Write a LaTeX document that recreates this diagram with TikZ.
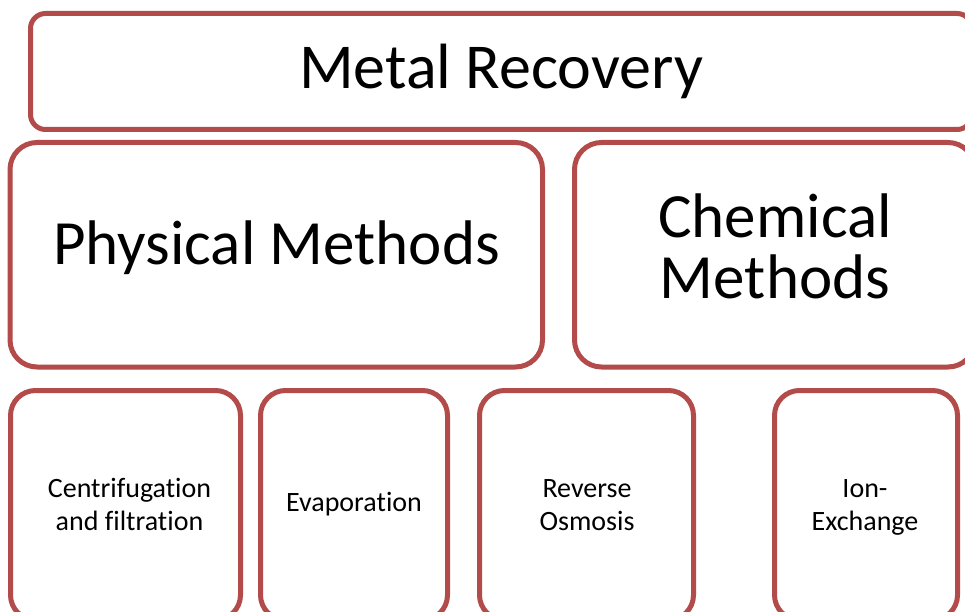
\documentclass[tikz,border=0pt]{standalone}
\usepackage{fontspec}
\setmainfont{Carlito}[Ligatures={NoCommon}]
\definecolor{boxred}{RGB}{178,75,73}
\begin{document}
\begin{tikzpicture}[x=1pt,y=-1pt,
  box/.style={draw=boxred,line width=5pt,rectangle,inner sep=0pt,outer sep=0pt,fill=white},
  bigtxt/.style={font=\fontsize{63}{61}\selectfont,align=center,inner sep=0pt,anchor=base},
  smalltxt/.style={font=\fontsize{28}{33}\selectfont,align=center,inner sep=0pt,anchor=base}]
\useasboundingbox (0,0) rectangle (965,612);
\clip (0,0) rectangle (965,612);
% boxes
\node[box,rounded corners=15pt,minimum width=941.5pt,minimum height=116pt] (top) at (501.25,71.5) {};
\node[box,rounded corners=27pt,minimum width=532.5pt,minimum height=224.5pt] (phys) at (276.25,254.75) {};
\node[box,rounded corners=27pt,minimum width=400.5pt,minimum height=224.5pt] (chem) at (774.75,254.75) {};
\node[box,rounded corners=25pt,minimum width=230pt,minimum height=229.5pt] (cent) at (125.5,505.25) {};
\node[box,rounded corners=25pt,minimum width=187pt,minimum height=229.5pt] (evap) at (354,505.25) {};
\node[box,rounded corners=25pt,minimum width=214pt,minimum height=229.5pt] (rev) at (586.5,505.25) {};
\node[box,rounded corners=25pt,minimum width=183pt,minimum height=229.5pt] (ion) at (866,505.25) {};
% texts
\node[bigtxt,font=\fontsize{64}{61}\selectfont] (ttop) at (501,89) {Metal Recovery};
\node[bigtxt] (tphys) at (276.5,264) {Physical Methods};
\node[bigtxt] (tchem) at (775,298) {Chemical\\Methods};
\node[smalltxt] (tcent) at (129.5,530) {Centrifugation\\and filtration};
\node[smalltxt] (tevap) at (354,511) {Evaporation};
\node[smalltxt] (trev) at (587,530) {Reverse\\Osmosis};
\node[smalltxt] (tion) at (865,530) {Ion-\\Exchange};
\end{tikzpicture}
\end{document}
